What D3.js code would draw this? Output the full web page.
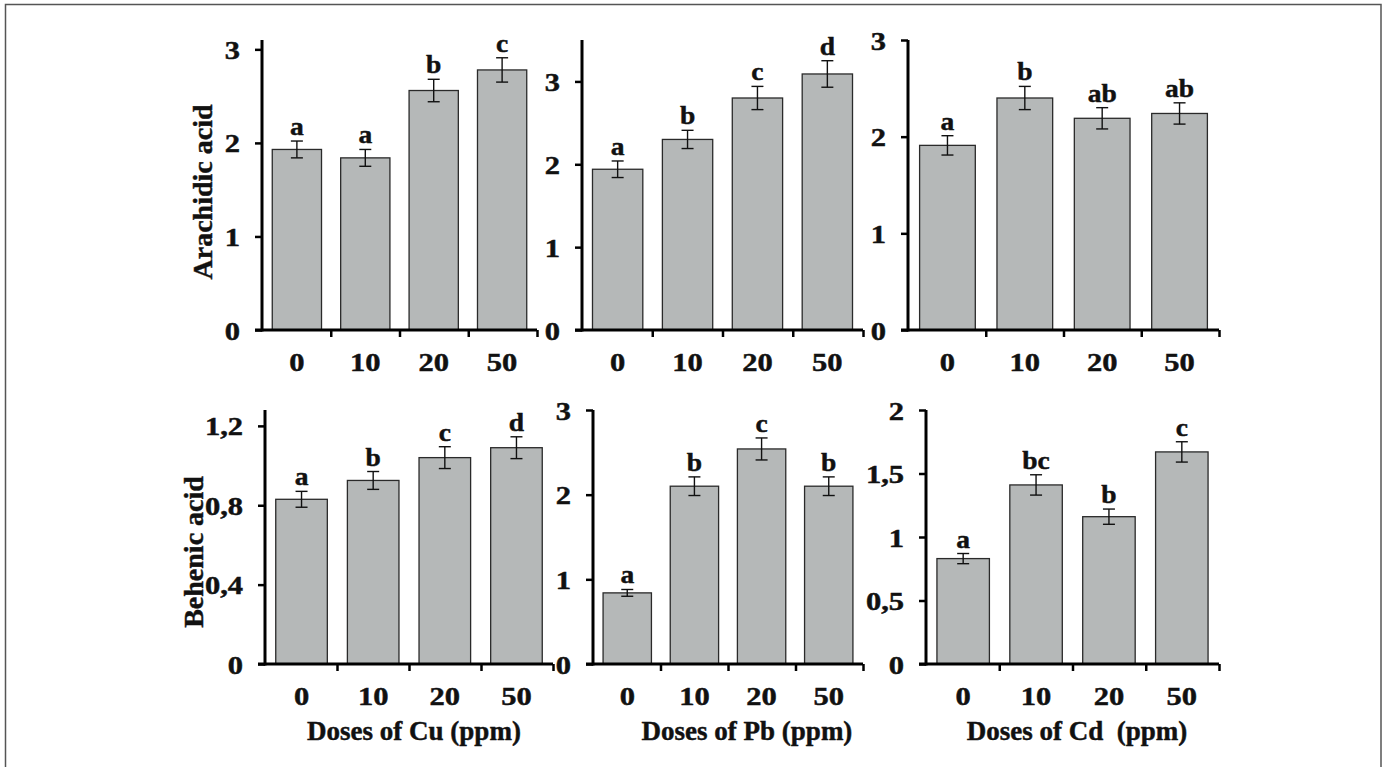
<!DOCTYPE html>
<html>
<head>
    <title>Arachidic and behenic acid by metal dose</title>
    <script src="https://d3js.org/d3.v7.min.js"></script>
    <style>
        body {
            margin: 0;
            background-color: #FFFFFF;
        }
        text {
            font-family: "Liberation Serif", "Times New Roman", serif;
            font-weight: bold;
            fill: #111111;
            stroke: #111111;
            stroke-width: 0.45px;
        }
    </style>
</head>
<body>
    <div id="chart"></div>

    <script>
        // Doses on the x axis
        var doses = ["0", "10", "20", "50"];

        // Arachidic acid (top row)
        var arachidicCu = [1.93, 1.84, 2.56, 2.78];
        var arachidicCuErr = [0.09, 0.09, 0.12, 0.13];
        var arachidicCuLetters = ["a", "a", "b", "c"];

        var arachidicPb = [1.94, 2.30, 2.80, 3.09];
        var arachidicPbErr = [0.10, 0.11, 0.14, 0.16];
        var arachidicPbLetters = ["a", "b", "c", "d"];

        var arachidicCd = [1.91, 2.40, 2.19, 2.24];
        var arachidicCdErr = [0.10, 0.12, 0.11, 0.11];
        var arachidicCdLetters = ["a", "b", "ab", "ab"];

        // Behenic acid (bottom row)
        var behenicCu = [0.83, 0.925, 1.04, 1.09];
        var behenicCuErr = [0.04, 0.045, 0.055, 0.055];
        var behenicCuLetters = ["a", "b", "c", "d"];

        var behenicPb = [0.84, 2.10, 2.54, 2.10];
        var behenicPbErr = [0.04, 0.11, 0.13, 0.11];
        var behenicPbLetters = ["a", "b", "c", "b"];

        var behenicCd = [0.83, 1.41, 1.16, 1.67];
        var behenicCdErr = [0.04, 0.08, 0.06, 0.08];
        var behenicCdLetters = ["a", "bc", "b", "c"];

        // Y axis settings
        var arachidicCuTicks = [0, 1, 2, 3];
        var arachidicPbTicks = [0, 1, 2, 3];
        var arachidicCdTicks = [0, 1, 2, 3];
        var behenicCuTicks = [0, 0.4, 0.8, 1.2];
        var behenicPbTicks = [0, 1, 2, 3];
        var behenicCdTicks = [0, 0.5, 1, 1.5, 2];

        var yLabels = ["Arachidic acid", "Behenic acid"];
        var xTitles = ["Doses of Cu (ppm)", "Doses of Pb (ppm)", "Doses of Cd\u00a0 (ppm)"];

        // Panel layout (pixels)
        var panels = [
            { values: arachidicCu, err: arachidicCuErr, letters: arachidicCuLetters, ticks: arachidicCuTicks, max: 3.1, left: 262, right: 537, top: 40, bottom: 330 },
            { values: arachidicPb, err: arachidicPbErr, letters: arachidicPbLetters, ticks: arachidicPbTicks, max: 3.5, left: 582, right: 863, top: 40, bottom: 330 },
            { values: arachidicCd, err: arachidicCdErr, letters: arachidicCdLetters, ticks: arachidicCdTicks, max: 3, left: 908, right: 1219, top: 40, bottom: 330 },
            { values: behenicCu, err: behenicCuErr, letters: behenicCuLetters, ticks: behenicCuTicks, max: 1.28, left: 265, right: 553, top: 410, bottom: 664, title: 0, titleX: 414 },
            { values: behenicPb, err: behenicPbErr, letters: behenicPbLetters, ticks: behenicPbTicks, max: 3, left: 593, right: 863, top: 410, bottom: 664, title: 1, titleX: 747 },
            { values: behenicCd, err: behenicCdErr, letters: behenicCdLetters, ticks: behenicCdTicks, max: 2, left: 926, right: 1219, top: 410, bottom: 664, title: 2, titleX: 1077 }
        ];

        var width = 1386, height = 767;
        var stretch = 1.22; // tick digits are drawn wide in the original

        var svg = d3.select("#chart")
            .append("svg")
            .attr("width", width)
            .attr("height", height);

        // Frame round the figure
        svg.append("rect")
            .attr("x", 5.5)
            .attr("y", 4.5)
            .attr("width", 1375.5)
            .attr("height", 780)
            .attr("fill", "none")
            .attr("stroke", "#555555")
            .attr("stroke-width", 1.5);

        var commaFormat = function(d) { return String(d).replace(".", ","); };

        panels.forEach(function(p) {
            var g = svg.append("g");

            var x = d3.scaleBand()
                .domain(doses)
                .range([p.left, p.right])
                .paddingInner(0.28)
                .paddingOuter(0.15);

            var y = d3.scaleLinear()
                .domain([0, p.max])
                .range([p.bottom, p.top]);

            var edge = d3.scaleLinear()
                .domain([0, doses.length])
                .range([p.left, p.right]);

            // Bars
            g.selectAll(".bar")
                .data(p.values)
                .enter()
                .append("rect")
                .attr("x", function(d, i) { return x(doses[i]); })
                .attr("y", function(d) { return y(d); })
                .attr("width", x.bandwidth())
                .attr("height", function(d) { return y(0) - y(d); })
                .attr("fill", "#b5b8b8")
                .attr("stroke", "#2a2a2a")
                .attr("stroke-width", 1.3);

            // Error bars
            var cx = function(i) { return x(doses[i]) + x.bandwidth() / 2; };
            var errG = g.append("g")
                .attr("stroke", "#111111")
                .attr("stroke-width", 1.4);

            p.values.forEach(function(v, i) {
                var hi = y(v + p.err[i]), lo = y(v - p.err[i]);
                errG.append("line").attr("x1", cx(i)).attr("x2", cx(i)).attr("y1", hi).attr("y2", lo);
                errG.append("line").attr("x1", cx(i) - 6).attr("x2", cx(i) + 6).attr("y1", hi).attr("y2", hi);
                errG.append("line").attr("x1", cx(i) - 6).attr("x2", cx(i) + 6).attr("y1", lo).attr("y2", lo);
            });

            // Significance letters
            g.selectAll(".letter")
                .data(p.letters)
                .enter()
                .append("text")
                .attr("transform", function(d, i) {
                    return "translate(" + cx(i) + "," + (y(p.values[i] + p.err[i]) - 6) + ") scale(1.1,1)";
                })
                .attr("text-anchor", "middle")
                .style("font-size", "25px")
                .text(function(d) { return d; });

            // Y axis
            var yAxis = g.append("g")
                .attr("transform", "translate(" + p.left + ",0)")
                .call(d3.axisLeft(y)
                    .tickValues(p.ticks)
                    .tickSize(7)
                    .tickSizeOuter(0)
                    .tickFormat(commaFormat));
            yAxis.select(".domain")
                .attr("stroke", "#000")
                .attr("stroke-width", 3)
                .attr("d", "M0," + p.top + "V" + (p.bottom + 1.5));
            yAxis.selectAll(".tick line").attr("stroke", "#000").attr("stroke-width", 2.5);
            yAxis.selectAll(".tick text")
                .attr("x", -22 / stretch)
                .attr("dy", "0.36em")
                .attr("transform", "scale(" + stretch + ",1)")
                .style("font-size", "25px")
                .style("font-family", null);

            // X axis line and boundary ticks
            var xAxis = g.append("g")
                .attr("transform", "translate(0," + p.bottom + ")")
                .call(d3.axisBottom(edge)
                    .tickValues(d3.range(1, doses.length + 1))
                    .tickSize(7)
                    .tickSizeOuter(0)
                    .tickFormat(""));
            xAxis.select(".domain")
                .attr("stroke", "#000")
                .attr("stroke-width", 3)
                .attr("d", "M" + (p.left - 7) + ",0H" + p.right);
            xAxis.selectAll(".tick line").attr("stroke", "#000").attr("stroke-width", 2.5);

            // X tick labels at band centres
            var xLabels = g.append("g")
                .attr("transform", "translate(0," + p.bottom + ")")
                .call(d3.axisBottom(x).tickSize(0).tickPadding(0));
            xLabels.select(".domain").remove();
            xLabels.selectAll(".tick text")
                .attr("y", 41)
                .attr("dy", null)
                .attr("transform", "scale(" + stretch + ",1)")
                .style("font-size", "25px")
                .style("font-family", null);

            if (p.title !== undefined) {
                svg.append("text")
                    .attr("x", p.titleX)
                    .attr("y", 740)
                    .attr("text-anchor", "middle")
                    .style("font-size", "27px")
                    .text(xTitles[p.title]);
            }
        });

        // Y axis titles
        svg.append("text")
            .attr("transform", "translate(202,192) rotate(-90)")
            .attr("text-anchor", "middle")
            .attr("dy", "0.35em")
            .style("font-size", "28px")
            .text(yLabels[0]);

        svg.append("text")
            .attr("transform", "translate(193,552) rotate(-90)")
            .attr("text-anchor", "middle")
            .attr("dy", "0.35em")
            .style("font-size", "28px")
            .text(yLabels[1]);
    </script>
</body>
</html>
